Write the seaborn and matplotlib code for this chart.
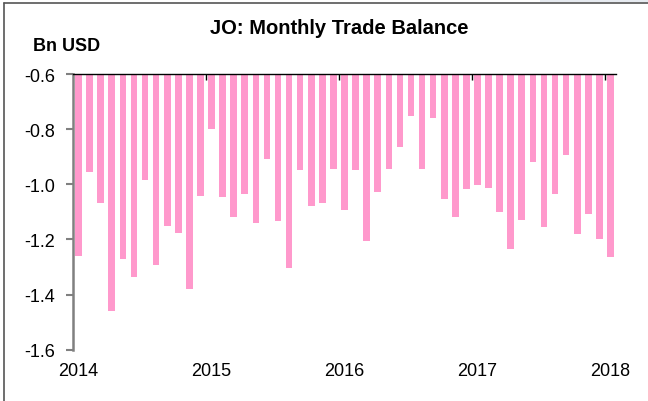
import matplotlib
matplotlib.use("Agg")
import matplotlib.pyplot as plt
import seaborn as sns
import pandas as pd
from matplotlib.lines import Line2D
from matplotlib.patches import Rectangle

months = [f"{y}-{m:02d}" for y in range(2014, 2018) for m in range(1, 13)] + ["2018-01"]
balance = [
    -1.260, -0.957, -1.067, -1.459, -1.270, -1.336, -0.986, -1.294, -1.151, -1.177, -1.381, -1.042,
    -0.798, -1.047, -1.120, -1.037, -1.142, -0.910, -1.135, -1.304, -0.948, -1.077, -1.067, -0.944,
    -1.092, -0.947, -1.205, -1.029, -0.945, -0.863, -0.753, -0.945, -0.758, -1.053, -1.117, -1.018,
    -1.002, -1.012, -1.099, -1.235, -1.129, -0.918, -1.156, -1.037, -0.892, -1.181, -1.108, -1.198,
    -1.262,
]
year_labels = ["2014", "2015", "2016", "2017", "2018"]
y_ticks = [-0.6, -0.8, -1.0, -1.2, -1.4, -1.6]

df = pd.DataFrame({"month": months, "balance": balance})

sns.set_style("white")
plt.rcParams["font.family"] = ["Liberation Sans", "DejaVu Sans"]
plt.rcParams["text.color"] = "black"
plt.rcParams["xtick.color"] = "black"
plt.rcParams["ytick.color"] = "black"

fig = plt.figure(figsize=(6.48, 4.02), dpi=100)
ax = fig.add_axes([73 / 648, 1 - 350.7 / 402, (616 - 73) / 648, (350.7 - 75) / 402])

sns.barplot(data=df, x="month", y="balance", order=months, color="#FF99CC",
            saturation=1, width=0.6, ax=ax, errorbar=None)
for p in ax.patches:
    p.set_edgecolor("none")

ax.set_ylim(-1.6, -0.6)
ax.set_xlim(-0.5, len(months) - 0.5)
ax.set_yticks(y_ticks)
ax.set_yticklabels([f"{v:.1f}" for v in y_ticks])
ax.set_xlabel("")
ax.set_ylabel("")

# year labels under January bars
jan_pos = [i for i, m in enumerate(months) if m.endswith("-01")]
ax.set_xticks(jan_pos)
ax.set_xticklabels(year_labels)
ax.tick_params(axis="x", which="major", length=0, pad=9, labelsize=13, labelcolor="black")
# small boundary ticks on top line
ax.set_xticks([p - 0.5 for p in jan_pos[1:]], minor=True)
ax.tick_params(axis="x", which="minor", bottom=False, top=True, direction="in",
               length=4, width=1, color="black")

ax.tick_params(axis="y", which="major", left=True, direction="out", length=5, width=1.5,
               color="#808080", pad=8, labelsize=13, labelcolor="black")

for s in ["right", "bottom"]:
    ax.spines[s].set_visible(False)
ax.spines["left"].set_color("#808080")
ax.spines["left"].set_linewidth(1.8)
ax.spines["top"].set_color("black")
ax.spines["top"].set_linewidth(1.0)

fig.text(339 / 648, 1 - 28.5 / 402, "JO: Monthly Trade Balance", ha="center", va="center",
         fontsize=14.5, fontweight="bold", color="black")
fig.text(33 / 648, 1 - 46.5 / 402, "Bn USD", ha="left", va="center",
         fontsize=13, fontweight="bold", color="black")

# outer frame lines
fig.add_artist(Rectangle((540 / 648, 1 - 3 / 402), 108 / 648, 3 / 402,
                         transform=fig.transFigure, facecolor="#E6EAF0", edgecolor="none"))
fig.add_artist(Line2D([3.5 / 648, 1], [1 - 3.5 / 402, 1 - 3.5 / 402], transform=fig.transFigure,
                      color="#555555", linewidth=1.2))
fig.add_artist(Line2D([3.5 / 648, 3.5 / 648], [0, 1 - 3.5 / 402], transform=fig.transFigure,
                      color="#555555", linewidth=1.2))

fig.savefig("out.png", dpi=100)
